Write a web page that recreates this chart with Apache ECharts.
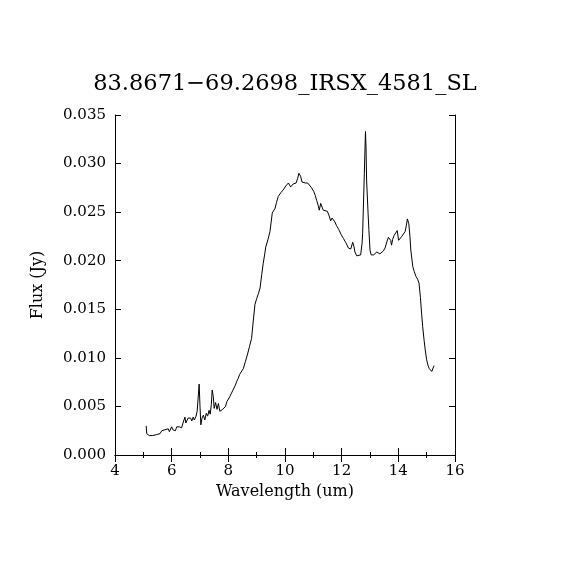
<!DOCTYPE html>
<html>
<head>
<meta charset="utf-8">
<script src="https://cdn.jsdelivr.net/npm/echarts@6/dist/echarts.min.js"></script>
<style>html,body{margin:0;padding:0;background:#fff}#c{width:570px;height:570px}</style>
</head>
<body>
<div id="c"></div>
<script>
var titleText = "83.8671\u221269.2698_IRSX_4581_SL";
var xName = "Wavelength (um)";
var yName = "Flux (Jy)";
var wavelength = [5.10,5.12,5.21,5.27,5.33,5.40,5.47,5.53,5.59,5.65,5.70,5.76,5.82,5.88,5.92,6.00,6.04,6.08,6.13,6.18,6.22,6.27,6.31,6.35,6.40,6.43,6.47,6.50,6.53,6.58,6.62,6.67,6.71,6.76,6.80,6.86,6.90,6.97,7.00,7.03,7.07,7.12,7.17,7.22,7.27,7.32,7.36,7.40,7.43,7.47,7.50,7.55,7.60,7.65,7.70,7.75,7.80,7.85,7.90,7.95,8.00,8.05,8.10,8.15,8.20,8.25,8.30,8.35,8.40,8.45,8.53,8.60,8.68,8.75,8.82,8.88,8.94,9.00,9.06,9.12,9.18,9.23,9.28,9.32,9.40,9.47,9.55,9.60,9.65,9.70,9.76,9.85,9.94,10.03,10.12,10.20,10.29,10.39,10.45,10.49,10.55,10.60,10.65,10.72,10.80,10.87,10.94,11.02,11.07,11.12,11.17,11.21,11.26,11.30,11.35,11.42,11.49,11.55,11.61,11.66,11.71,11.76,11.82,11.90,11.98,12.06,12.14,12.24,12.32,12.39,12.43,12.47,12.53,12.59,12.67,12.72,12.74,12.80,12.84,12.86,12.88,12.93,12.96,13.00,13.04,13.08,13.13,13.18,13.24,13.29,13.35,13.41,13.47,13.53,13.60,13.65,13.70,13.73,13.76,13.80,13.85,13.92,13.96,14.01,14.06,14.12,14.18,14.24,14.28,14.32,14.37,14.41,14.44,14.51,14.56,14.62,14.68,14.73,14.78,14.82,14.86,14.91,14.95,15.00,15.05,15.09,15.14,15.18,15.22,15.26];
var flux = [0.0030,0.0022,0.0020,0.0021,0.0020,0.0022,0.0021,0.0023,0.0022,0.0025,0.0023,0.0026,0.0024,0.0027,0.0024,0.0029,0.0026,0.0028,0.0025,0.0029,0.0027,0.0029,0.0031,0.0028,0.0033,0.0032,0.0039,0.0033,0.0035,0.0038,0.0036,0.0038,0.0035,0.0039,0.0036,0.0040,0.0045,0.0073,0.0050,0.0031,0.0038,0.0041,0.0036,0.0043,0.0040,0.0046,0.0042,0.0052,0.0067,0.0060,0.0048,0.0054,0.0047,0.0053,0.0045,0.0044,0.0047,0.0046,0.0050,0.0055,0.0056,0.0060,0.0061,0.0066,0.0068,0.0072,0.0076,0.0079,0.0083,0.0085,0.0089,0.0096,0.0104,0.0112,0.0120,0.0138,0.0155,0.0161,0.0166,0.0172,0.0186,0.0197,0.0206,0.0214,0.0222,0.0230,0.0249,0.0251,0.0254,0.0260,0.0266,0.0270,0.0273,0.0277,0.0280,0.0276,0.0279,0.0280,0.0285,0.0290,0.0287,0.0281,0.0279,0.0280,0.0280,0.0278,0.0275,0.0271,0.0267,0.0262,0.0257,0.0252,0.0259,0.0257,0.0252,0.0252,0.0251,0.0247,0.0241,0.0244,0.0245,0.0240,0.0236,0.0232,0.0227,0.0223,0.0219,0.0213,0.0212,0.0219,0.0215,0.0209,0.0205,0.0204,0.0206,0.0218,0.0228,0.0290,0.0333,0.0316,0.0283,0.0250,0.0232,0.0211,0.0206,0.0204,0.0206,0.0207,0.0209,0.0209,0.0207,0.0208,0.0210,0.0213,0.0220,0.0224,0.0223,0.0221,0.0216,0.0222,0.0226,0.0228,0.0231,0.0221,0.0223,0.0225,0.0227,0.0230,0.0236,0.0243,0.0238,0.0225,0.0211,0.0194,0.0189,0.0184,0.0181,0.0177,0.0162,0.0146,0.0132,0.0118,0.0108,0.0098,0.0092,0.0089,0.0087,0.0086,0.0088,0.0092];

var points = wavelength.map(function(w, i){ return [w, flux[i]]; });
var FONT = "DejaVu Serif";
var axisCommon = {
  axisLine: {show: true, lineStyle: {color: '#000', width: 1}},
  splitLine: {show: false},
};
function xAx(pos, labels) {
  return Object.assign({
    type: 'value', position: pos, min: 4, max: 16, interval: 2,
    axisTick: {show: true, inside: true, length: 7, lineStyle: {color: '#000'}},
    minorTick: {show: true, splitNumber: 2, length: 3, lineStyle: {color: '#000'}},
    minorSplitLine: {show: false},
    axisLabel: {show: labels, color: '#000', fontFamily: FONT, fontSize: 15, margin: 9},
    name: labels ? xName : '', nameLocation: 'middle', nameGap: 29,
    nameTextStyle: {color: '#000', fontFamily: FONT, fontSize: 16}
  }, axisCommon);
}
function yAx(pos, labels) {
  return Object.assign({
    type: 'value', position: pos, min: 0, max: 0.035, interval: 0.005,
    axisTick: {show: true, inside: true, length: 6, lineStyle: {color: '#000'}},
    axisLabel: {show: labels, color: '#000', fontFamily: FONT, fontSize: 15, margin: 9,
      formatter: function(v){ return v.toFixed(3); }},
    name: labels ? yName : '', nameLocation: 'middle', nameGap: 69, nameRotate: 90,
    nameTextStyle: {color: '#000', fontFamily: FONT, fontSize: 16}
  }, axisCommon);
}
var chart = echarts.init(document.getElementById('c'), null, {renderer: 'canvas'});
chart.setOption({
  backgroundColor: '#fff',
  animation: false,
  title: {text: titleText, left: 'center', top: 68,
    textStyle: {color: '#000', fontFamily: FONT, fontSize: 22.5, fontWeight: 'normal'}},
  grid: {left: 115, top: 115, width: 340, height: 340},
  xAxis: [xAx('bottom', true), xAx('top', false)],
  yAxis: [yAx('left', true), yAx('right', false)],
  series: [{
    type: 'line', data: points, xAxisIndex: 0, yAxisIndex: 0,
    showSymbol: false, symbol: 'none',
    lineStyle: {color: '#000', width: 1}
  }]
});
</script>
</body>
</html>
